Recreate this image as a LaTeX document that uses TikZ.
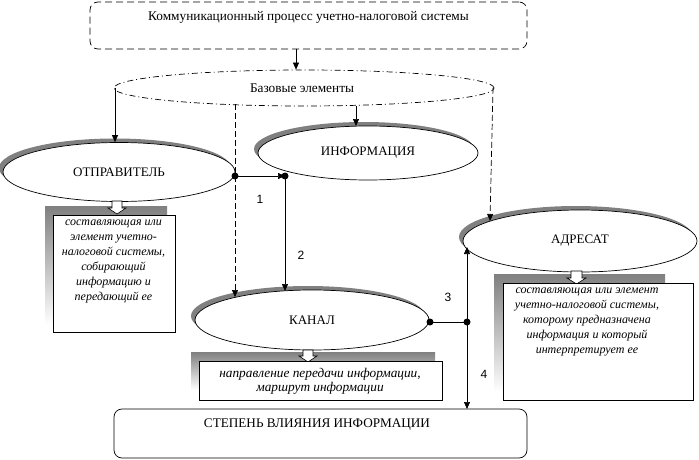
\documentclass[tikz,border=0pt]{standalone}
\usepackage{fontspec}
\setmainfont{Liberation Serif}
\newfontfamily\numfont{Liberation Sans}
\usetikzlibrary{shapes.geometric,arrows.meta}
\definecolor{shade}{RGB}{128,128,128}
\tikzset{
  ell/.style={ellipse,draw,fill=white,inner sep=0pt,font=\fontsize{13}{15}\selectfont},
  ellsh/.style={ellipse,fill=shade,draw=none,inner sep=0pt},
  mydash/.style={dash pattern=on 7pt off 4pt},
  conn/.style={-{Triangle[length=7pt,width=6pt]}},
  dashconn/.style={dash pattern=on 6pt off 3pt,-{Triangle[length=7pt,width=6pt]}},
  desc/.style={align=center,inner sep=0pt,font=\fontsize{12}{15}\itshape\selectfont},
  num/.style={inner sep=0pt,font=\fontsize{12}{14}\numfont},
  dot/.style={circle,fill,inner sep=0pt,minimum size=7pt},
  blockarrow/.style={fill=white,draw,line width=0.6pt}
}
\begin{document}
\begin{tikzpicture}[x=1pt,y=-1pt,line width=0.7pt]
\useasboundingbox (0,0) rectangle (699,460);
% top box
\node[draw,mydash,rounded corners=8pt,minimum width=437pt,minimum height=47pt,inner sep=0pt] (top) at (308.5,25.5) {};
\node[inner sep=0pt,font=\fontsize{13.3}{15}\selectfont] (toptext) at (308.5,17) {Коммуникационный процесс учетно-налоговой системы};
% base ellipse
\node[ellipse,draw,dash pattern=on 6pt off 3pt on 1pt off 3pt,minimum width=380pt,minimum height=36pt,inner sep=0pt] (base) at (304,88) {};
\node[inner sep=0pt,font=\fontsize{13.3}{15}\selectfont] (basetext) at (302,88) {Базовые элементы};
% ellipses with shadows
\node[ellsh,minimum width=232pt,minimum height=59pt] (otpsh) at (115,168) {};
\node[ell,minimum width=232pt,minimum height=59pt] (otp) at (119,172) {ОТПРАВИТЕЛЬ};
\node[ellsh,minimum width=220pt,minimum height=54pt] (infsh) at (364,149) {};
\node[ell,minimum width=220pt,minimum height=54pt] (inf) at (368,153) {ИНФОРМАЦИЯ};
\node[ellsh,minimum width=234pt,minimum height=60pt] (kansh) at (308,316) {};
\node[ell,minimum width=234pt,minimum height=60pt] (kan) at (312,320) {КАНАЛ};
\node[ellsh,minimum width=234pt,minimum height=62pt] (adrsh) at (576,237) {};
\node[ell,minimum width=234pt,minimum height=62pt] (adr) at (580,241) {АДРЕСАТ};
% description boxes
\fill[shade] (45,206) rectangle (167,325);
\filldraw[blockarrow] (112,201) -- (122,201) -- (122,208) -- (126,208) -- (117,214) -- (108,208) -- (112,208) -- cycle;
\node[draw,fill=white,minimum width=122pt,minimum height=117pt,inner sep=0pt] (otpbox) at (114,273.5) {};
\node[desc] (otptext) at (113.5,261) {составляющая или\\элемент учетно-\\налоговой системы,\\собирающий\\информацию и\\передающий ее};
\fill[shade] (191,352) rectangle (435,390);
\filldraw[blockarrow] (303,350) -- (313,350) -- (313,356) -- (317,356) -- (308,362) -- (299,356) -- (303,356) -- cycle;
\node[draw,fill=white,minimum width=243pt,minimum height=39pt,inner sep=0pt] (kanbox) at (320.5,380.5) {};
\node[desc,font=\fontsize{13.3}{14}\itshape\selectfont] (kantext) at (320,381) {направление передачи информации,\\маршрут информации};
\fill[shade] (494,274) rectangle (665,392);
\filldraw[blockarrow] (571,271) -- (582,271) -- (582,278) -- (586,278) -- (576.5,284) -- (567,278) -- (571,278) -- cycle;
\node[draw,fill=white,minimum width=190pt,minimum height=117pt,inner sep=0pt] (adrbox) at (598,341.5) {};
\node[desc] (adrtext) at (587,322) {составляющая или элемент\\учетно-налоговой системы,\\которому предназначена\\информация и который\\интерпретирует ее};
% bottom box
\node[draw,rounded corners=8pt,minimum width=413pt,minimum height=49pt,inner sep=0pt] (deg) at (320.5,433.5) {};
\node[inner sep=0pt,font=\fontsize{13.2}{15}\selectfont] (degtext) at (317,425) {СТЕПЕНЬ ВЛИЯНИЯ ИНФОРМАЦИИ};
% coordinates
\coordinate (bL) at (115,88);
\coordinate (bR) at (493,88);
\coordinate (bD) at (235,104);
\coordinate (bI) at (356,106);
\coordinate (t0) at (296,49);
\coordinate (p1) at (235,176);
\coordinate (p2) at (285,176);
\coordinate (p3) at (430,322);
\coordinate (p4) at (467,322);
\coordinate (adrL) at (467,247);
\coordinate (degT) at (467,409);
% connectors
\draw[conn] (t0) -- (t0 |- base.north);
\draw[conn] (bL) -- (bL |- otp.north);
\draw[dashconn] (bR) -- (490,221);
\draw[dashconn] (bD) -- (235,297);
\draw[conn] (bI) -- (356,126);
\draw[conn] (p1) -- (p2);
\draw[conn] (p2) -- (285,291);
\draw (p3) -- (p4);
\draw[conn] (p4) -- (adrL);
\draw[conn] (p4) -- (degT);
\node[dot] (d1) at (p1) {};
\node[dot] (d2) at (p2) {};
\node[dot] (d3) at (p3) {};
\node[dot] (d4) at (p4) {};
\node[num] (n1) at (260,199) {1};
\node[num] (n2) at (301,255) {2};
\node[num] (n3) at (448,297) {3};
\node[num] (n4) at (484,374) {4};
\end{tikzpicture}
\end{document}
